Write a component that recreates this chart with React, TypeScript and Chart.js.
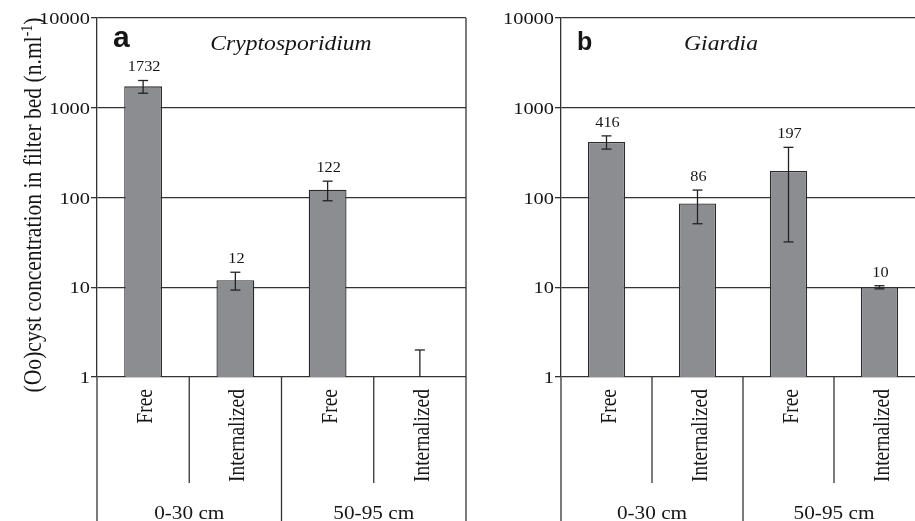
import React, { useEffect, useRef } from "react";
import { Chart, registerables } from "chart.js";
Chart.register(...registerables);

// ---------- data ----------
const categories = ["Free", "Internalized", "Free", "Internalized"];
const groups = ["0-30 cm", "50-95 cm"];
const yTicks = [1, 10, 100, 1000, 10000];

const cryptoValues: (number | null)[] = [1732, 12, 122, null];
const cryptoErrors = [280, 2.7, 30, 2];
const cryptoLabels = ["1732", "12", "122", ""];

const giardiaValues: (number | null)[] = [416, 86, 197, 10];
const giardiaErrors = [70, 35, 165, 0.4];
const giardiaLabels = ["416", "86", "197", "10"];

const yTitleMain = "(Oo)cyst concentration in filter bed (n.ml";
const yTitleSup = "-1";
const yTitleEnd = ")";

// ---------- style ----------
const SERIF = '"Liberation Serif", "Times New Roman", serif';
const SANS = '"Liberation Sans", Arial, sans-serif';
const SX = 1.18;
const INK = "#151515";
const LINE = "#333333";
const BAR = "#8c8d91";

type Panel = {
  letter: string;
  letterSize: number;
  letterX: number;
  letterY: number;
  title: string;
  titleDx: number;
  values: (number | null)[];
  errors: number[];
  labels: string[];
  showYTitle: boolean;
  yWidth: number;
  padRight: number;
};

const panelA: Panel = {
  letter: "a",
  letterSize: 30,
  letterX: 113,
  letterY: 47,
  title: "Cryptosporidium",
  titleDx: 194,
  values: cryptoValues,
  errors: cryptoErrors,
  labels: cryptoLabels,
  showYTitle: true,
  yWidth: 97,
  padRight: 4,
};

const panelB: Panel = {
  letter: "b",
  letterSize: 25,
  letterX: 107,
  letterY: 50,
  title: "Giardia",
  titleDx: 160,
  values: giardiaValues,
  errors: giardiaErrors,
  labels: giardiaLabels,
  showYTitle: false,
  yWidth: 91,
  padRight: 15,
};

function drawText(
  ctx: CanvasRenderingContext2D,
  text: string,
  x: number,
  y: number,
  font: string,
  align: CanvasTextAlign,
  baseline: CanvasTextBaseline,
  rotated = false,
  sx = SX
) {
  ctx.save();
  ctx.translate(x, y);
  ctx.scale(sx, 1);
  if (rotated) ctx.rotate(-Math.PI / 2);
  ctx.font = font;
  ctx.textAlign = align;
  ctx.textBaseline = baseline;
  ctx.fillStyle = INK;
  ctx.fillText(text, 0, 0);
  ctx.restore();
}

function seg(ctx: CanvasRenderingContext2D, x1: number, y1: number, x2: number, y2: number) {
  ctx.beginPath();
  ctx.moveTo(x1, y1);
  ctx.lineTo(x2, y2);
  ctx.stroke();
}

function makePlugin(p: Panel) {
  return {
    id: "panelDecor" + p.letter,
    afterDraw(chart: any) {
      const ctx: CanvasRenderingContext2D = chart.ctx;
      const ca = chart.chartArea;
      const xs = chart.scales.x;
      const ys = chart.scales.y;
      const H = chart.height;
      const n = categories.length;
      const minorEnd = 483;

      ctx.save();
      ctx.strokeStyle = LINE;
      ctx.lineWidth = 1.3;

      // right border of the plot
      seg(ctx, ca.right, ca.top, ca.right, ca.bottom);

      // separator lines below the axis
      for (let i = 0; i <= n; i++) {
        let x: number;
        if (i === 0) x = ca.left;
        else if (i === n) x = ca.right;
        else x = (xs.getPixelForValue(i - 1) + xs.getPixelForValue(i)) / 2;
        const major = i % 2 === 0;
        seg(ctx, x, ca.bottom, x, major ? H : minorEnd);
      }

      // error bars and value labels
      ctx.strokeStyle = "#222";
      ctx.lineWidth = 1.3;
      for (let i = 0; i < n; i++) {
        const v = p.values[i] ?? 0;
        const e = p.errors[i];
        const x = xs.getPixelForValue(i);
        const hi = v + e;
        const lo = v - e;
        const yHi = ys.getPixelForValue(hi);
        const loOk = lo >= ys.min;
        const yLo = loOk ? ys.getPixelForValue(lo) : ca.bottom;
        seg(ctx, x, yHi, x, yLo);
        seg(ctx, x - 5, yHi, x + 5, yHi);
        if (loOk) seg(ctx, x - 5, yLo, x + 5, yLo);
        if (p.labels[i]) {
          drawText(ctx, p.labels[i], x + 1, yHi - 9, `13.8px ${SERIF}`, "center", "alphabetic");
        }
      }

      // category labels (rotated)
      for (let i = 0; i < n; i++) {
        const x = xs.getPixelForValue(i) + 3;
        drawText(ctx, categories[i], x, ca.bottom + 12, `19.5px ${SERIF}`, "right", "middle", true);
      }

      // group labels
      for (let g = 0; g < groups.length; g++) {
        const x0 = g === 0 ? ca.left : (xs.getPixelForValue(2 * g - 1) + xs.getPixelForValue(2 * g)) / 2;
        const x1 =
          g === groups.length - 1
            ? ca.right
            : (xs.getPixelForValue(2 * g + 1) + xs.getPixelForValue(2 * g + 2)) / 2;
        drawText(ctx, groups[g], (x0 + x1) / 2, 519, `18px ${SERIF}`, "center", "alphabetic");
      }

      // y tick labels
      for (const t of yTicks) {
        const y = ys.getPixelForValue(t);
        drawText(ctx, String(t), ca.left - 7, y + 6, `17.3px ${SERIF}`, "right", "alphabetic");
      }

      // panel letter and title
      drawText(ctx, p.letter, p.letterX, p.letterY, `bold ${p.letterSize}px ${SANS}`, "left", "alphabetic", false, 1);
      drawText(ctx, p.title, ca.left + p.titleDx, 50, `italic 20px ${SERIF}`, "center", "alphabetic");

      // y axis title with superscript
      if (p.showYTitle) {
        const fMain = `21.6px ${SERIF}`;
        const fSup = `13.8px ${SERIF}`;
        ctx.save();
        ctx.translate(41, 205);
        ctx.scale(1.15, 1);
        ctx.rotate(-Math.PI / 2);
        ctx.fillStyle = INK;
        ctx.textBaseline = "alphabetic";
        ctx.textAlign = "left";
        ctx.font = fMain;
        const w1 = ctx.measureText(yTitleMain).width;
        const w3 = ctx.measureText(yTitleEnd).width;
        ctx.font = fSup;
        const w2 = ctx.measureText(yTitleSup).width;
        const total = w1 + w2 + w3;
        let cx = -total / 2;
        ctx.font = fMain;
        ctx.fillText(yTitleMain, cx, 0);
        cx += w1;
        ctx.font = fSup;
        ctx.fillText(yTitleSup, cx, -8);
        cx += w2;
        ctx.font = fMain;
        ctx.fillText(yTitleEnd, cx, 0);
        ctx.restore();
      }

      ctx.restore();
    },
  };
}

function PanelChart({ p, left }: { p: Panel; left: number }) {
  const ref = useRef<HTMLCanvasElement | null>(null);
  useEffect(() => {
    if (!ref.current) return;
    const chart = new Chart(ref.current, {
      type: "bar",
      data: {
        labels: categories,
        datasets: [
          {
            data: p.values as any,
            backgroundColor: BAR,
            borderColor: "#2b2b2b",
            borderWidth: 1.3,
            barPercentage: 0.41,
            categoryPercentage: 1.0,
          },
        ],
      },
      options: {
        responsive: false,
        animation: false,
        devicePixelRatio: 1,
        layout: { padding: { left: 0, right: p.padRight, top: 18, bottom: 0 } },
        plugins: {
          legend: { display: false },
          tooltip: { enabled: false },
          title: { display: false },
        },
        scales: {
          x: {
            type: "category",
            offset: true,
            grid: { display: false },
            border: { display: false },
            ticks: { display: false },
            afterFit: (s: any) => {
              s.height = 144;
            },
          },
          y: {
            type: "logarithmic",
            min: 1,
            max: 10000,
            afterBuildTicks: (s: any) => {
              s.ticks = yTicks.map((v) => ({ value: v }));
            },
            grid: {
              color: LINE,
              lineWidth: 1.3,
              drawTicks: true,
              tickLength: 6,
            },
            border: { display: true, color: LINE, width: 1.3 },
            ticks: { display: false },
            afterFit: (s: any) => {
              s.width = p.yWidth;
            },
          },
        },
      },
      plugins: [makePlugin(p)],
    } as any);
    return () => chart.destroy();
  }, [p]);
  return (
    <canvas
      ref={ref}
      width={470}
      height={521}
      style={{ position: "absolute", left, top: 0, width: 470, height: 521, display: "block" }}
    />
  );
}

export default function App() {
  return (
    <div
      style={{
        position: "fixed",
        left: 0,
        top: 0,
        width: 915,
        height: 521,
        overflow: "hidden",
        background: "#fff",
      }}
    >
      <PanelChart p={panelA} left={0} />
      <PanelChart p={panelB} left={470} />
    </div>
  );
}
